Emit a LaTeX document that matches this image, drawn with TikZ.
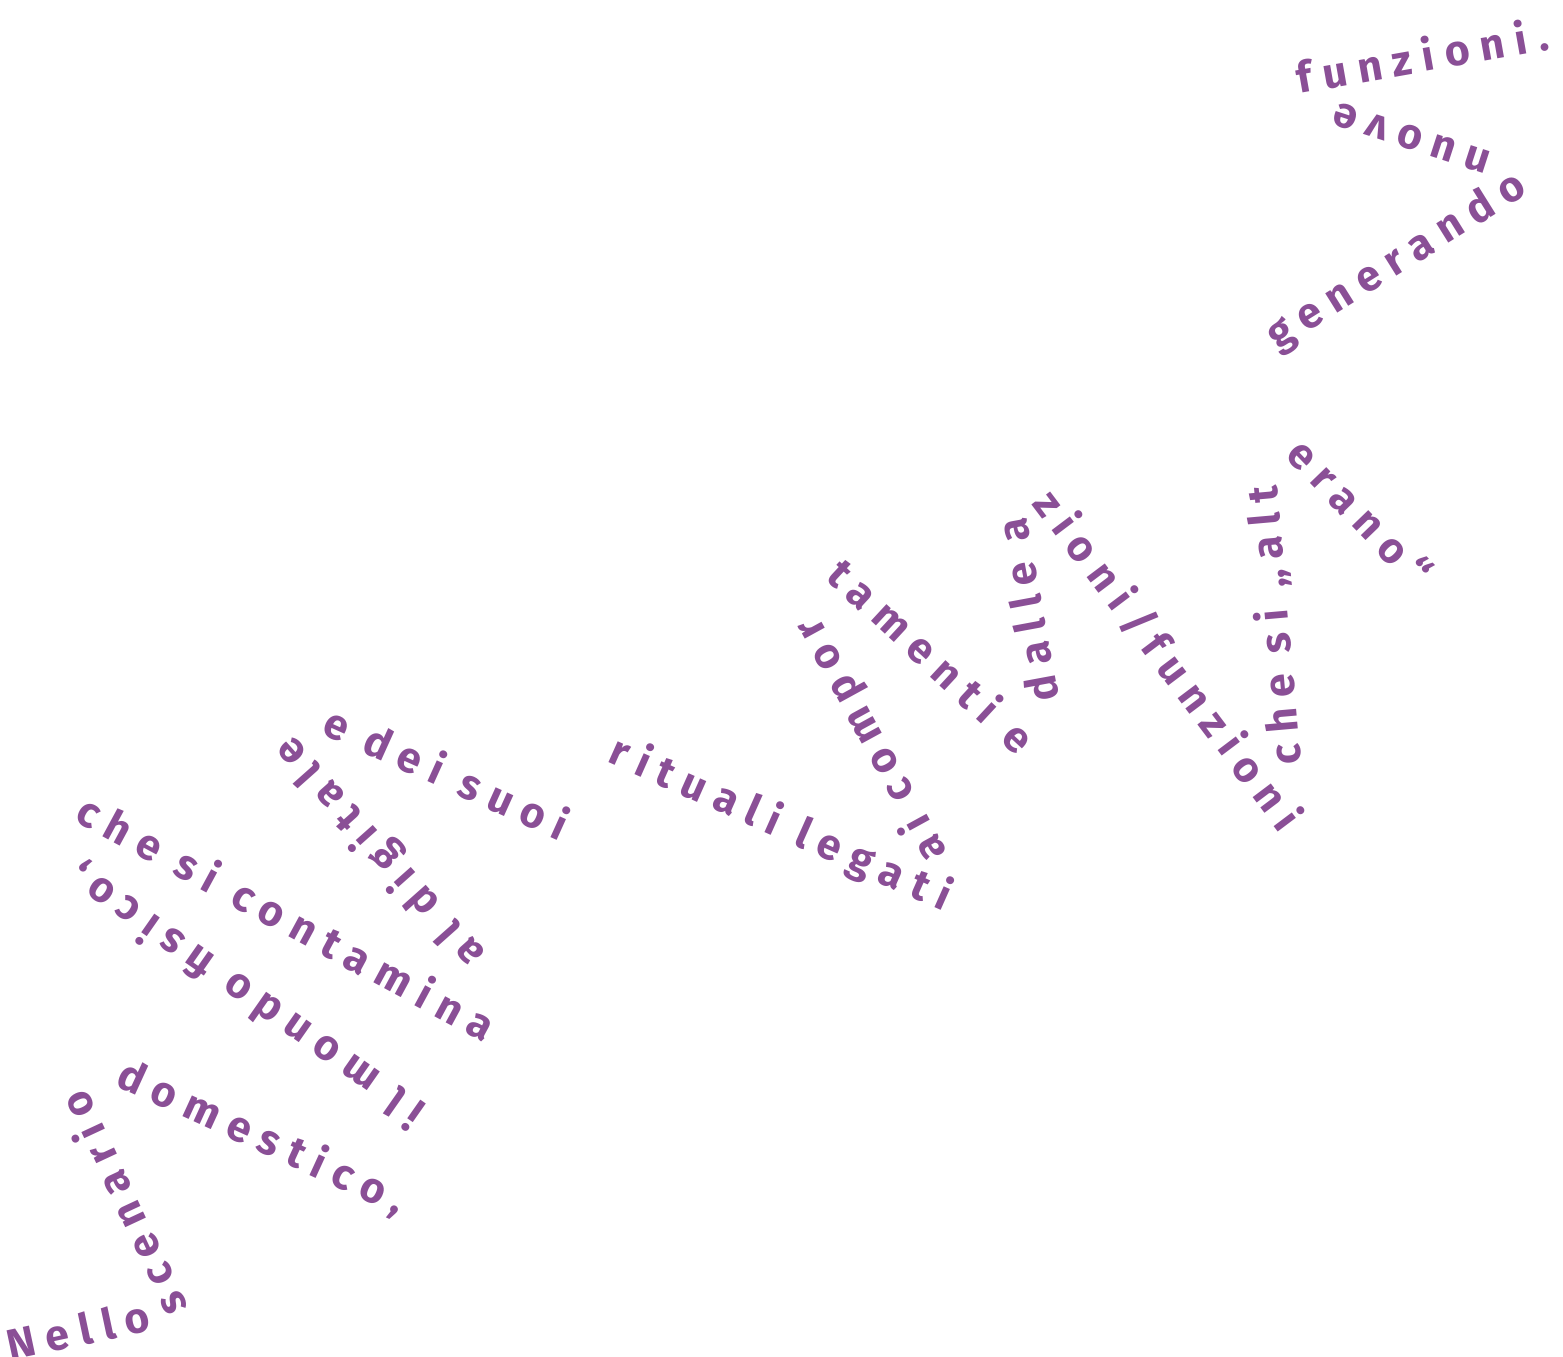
\documentclass[tikz,border=0pt]{standalone}
\usepackage{fontspec}
\setmainfont{Fira Sans}[LetterSpace=25]
\definecolor{pp}{HTML}{8A4F96}
\begin{document}
\begin{tikzpicture}[x=0.01cm,y=-0.01cm,
  w/.style={text=pp,font=\fontsize{12.2}{12.2}\selectfont\bfseries,inner sep=0pt,anchor=center}]
\useasboundingbox (0,0) rectangle (1563,1356);
\node[w,rotate=12] (t1) at (78,1330) {Nello};
\node[w,rotate=115] (t2) at (122,1205) {scenario};
\node[w,rotate=-24.6] (t3) at (262,1138) {domestico,};
\node[w,rotate=145] (t4) at (247,995) {il mondo fisico,};
\node[w,rotate=-28.4] (t5) at (287,917) {che si contamina};
\node[w,rotate=131.6] (t6) at (380,852) {al digitale};
\node[w,rotate=-24.3] (t7) at (447,772) {e dei suoi};
\node[w,rotate=-24] (t8) at (780,825) {rituali legati};
\node[w,rotate=118.7] (t9) at (872,740) {ai compor};
\node[w,rotate=-42.8] (t10) at (932,655) {tamenti e};
\node[w,rotate=100.5] (t11) at (1027,610) {dalle a};
\node[w,rotate=-53] (t12) at (1168,660) {zioni/funzioni};
\node[w,rotate=95] (t13) at (1275,625) {che si „alt};
\node[w,rotate=-46] (t14) at (1360,512) {erano“};
\node[w,rotate=32] (t15) at (1397,262) {generando};
\node[w,rotate=162] (t16) at (1412,138) {nuove};
\node[w,rotate=10] (t17) at (1422,55) {funzioni.};
\end{tikzpicture}
\end{document}
